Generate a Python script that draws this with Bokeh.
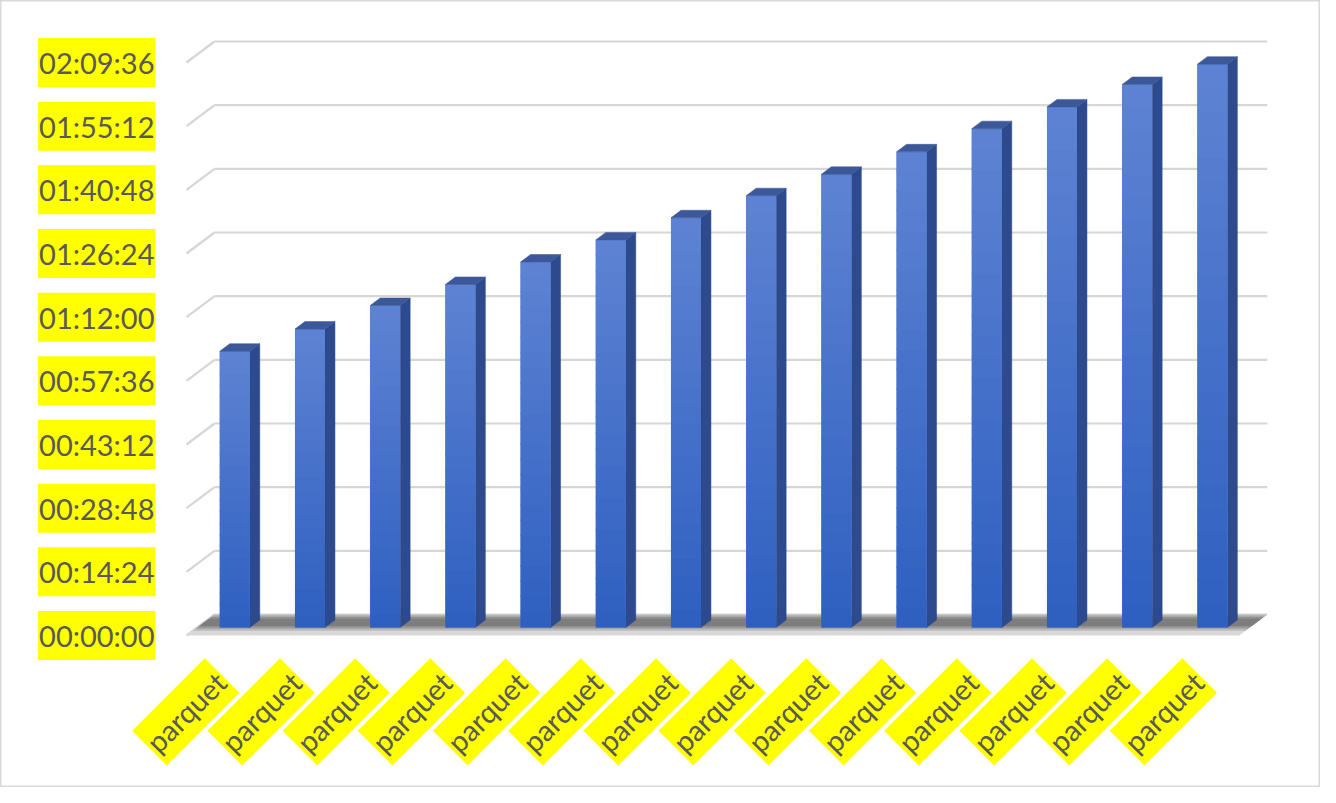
from math import pi
from bokeh.plotting import figure
from bokeh.models import Range1d
from bokeh.core.properties import value
from bokeh.embed import file_html
from bokeh.resources import INLINE

# ---------------- data ----------------
categories = ["parquet"] * 14
durations_s = [3750, 4050, 4370, 4655, 4960, 5260, 5560, 5860, 6150, 6455, 6770, 7065, 7370, 7645]
y_ticks = [0, 864, 1728, 2592, 3456, 4320, 5184, 6048, 6912, 7776]
y_tick_labels = ["00:00:00", "00:14:24", "00:28:48", "00:43:12", "00:57:36",
                 "01:12:00", "01:26:24", "01:40:48", "01:55:12", "02:09:36"]

# ---------------- layout ----------------
W, H = 1320, 787
PX_PER_CAT = 75.2            # pixels per category slot
PX_PER_S = 573.0 / 7776.0    # pixels per second
ORIGIN_X = 186               # canvas px of category 0 (front plane)
ORIGIN_Y = 635               # canvas px (from top) of value 0 (front plane)

n = len(categories)
DX = 28 / PX_PER_CAT         # depth offset to back wall (data units)
DY = 21 / PX_PER_S
T1 = 8 / 21                  # depth of bar front face
T2 = T1 + 10 / 28            # depth of bar back face
BW = 30 / PX_PER_CAT         # bar front width
ONE_PX_Y = 1 / PX_PER_S

x_range = Range1d(-ORIGIN_X / PX_PER_CAT, (W - ORIGIN_X) / PX_PER_CAT)
y_range = Range1d(-(H - ORIGIN_Y) / PX_PER_S, ORIGIN_Y / PX_PER_S)

p = figure(width=W, height=H, x_range=x_range, y_range=y_range,
           output_backend="svg", toolbar_location=None,
           x_axis_location=None, y_axis_location=None,
           min_border=0, min_border_left=0, min_border_right=0,
           min_border_top=0, min_border_bottom=0)
p.grid.visible = False
p.background_fill_color = "white"
p.border_fill_color = "white"
p.outline_line_color = "#d9d9d9"
p.outline_line_width = 2

GRID = "#d6d6d6"
# back wall gridlines
p.segment(x0=[DX] * len(y_ticks), y0=[t + DY for t in y_ticks],
          x1=[n + DX] * len(y_ticks), y1=[t + DY for t in y_ticks],
          line_color=GRID, line_width=2.2)
# side-wall diagonals
p.segment(x0=[0] * len(y_ticks), y0=y_ticks,
          x1=[DX] * len(y_ticks), y1=[t + DY for t in y_ticks],
          line_color=GRID, line_width=2.2)

# floor
p.patch([0, n, n + DX, DX], [0, 0, DY, DY], fill_color="#d9d9d9", line_color=None)
for (ta, tb, a) in [(0.22, 1.0, 0.15), (0.3, 0.95, 0.18), (0.38, 0.88, 0.22), (0.45, 0.8, 0.22)]:
    p.patch([ta * DX, n + ta * DX, n + tb * DX, tb * DX],
            [ta * DY, ta * DY, tb * DY, tb * DY],
            fill_color="#3a3a3a", fill_alpha=a, line_color=None)

# bars
NB = 24
top_rgb = (94, 131, 211)
bot_rgb = (46, 95, 192)

def mix(c1, c2, f):
    return "#%02x%02x%02x" % tuple(int(round(a + (b - a) * f)) for a, b in zip(c1, c2))

bl, br, bb, bt = [], [], [], []
ql, qr, qb, qt, qc = [], [], [], [], []
side_xs, side_ys, top_xs, top_ys = [], [], [], []
for i, v in enumerate(durations_s):
    cx = i + 0.5 + T1 * DX
    l, r = cx - BW / 2, cx + BW / 2
    base = T1 * DY
    bl.append(l); br.append(r); bb.append(base); bt.append(base + v)
    for k in range(NB):
        ql.append(l)
        qr.append(r)
        qb.append(base + v * k / NB)
        qt.append(min(base + v * (k + 1) / NB + 1.5 * ONE_PX_Y, base + v))
        qc.append(mix(bot_rgb, top_rgb, (k + 0.5) / NB))
    ddx = (T2 - T1) * DX
    ddy = (T2 - T1) * DY
    side_xs.append([r, r + ddx, r + ddx, r])
    side_ys.append([base, base + ddy, base + v + ddy, base + v])
    top_xs.append([l, r, r + ddx, l + ddx])
    top_ys.append([base + v, base + v, base + v + ddy, base + v + ddy])

p.patches(side_xs, side_ys, fill_color="#2c4a8d", line_color="#2c4a8d", line_width=0.5)
p.quad(left=bl, right=br, bottom=bb, top=bt, fill_color="#4272cb", line_color=None)
p.quad(left=ql, right=qr, bottom=qb, top=qt, fill_color=qc, line_color=None)
p.patches(top_xs, top_ys, fill_color="#3c5898", line_color="#3c5898", line_width=0.5)

# y tick labels
p.text(x=[-31 / PX_PER_CAT] * len(y_ticks), y=y_ticks,
       text=y_tick_labels, text_align="right", text_baseline="middle",
       text_font=value("Lato"), text_font_size="29px", text_color="#595959",
       background_fill_color="#ffff00", padding=(1, 7))

# category labels
p.text(x=[i + 0.5 - 2 / PX_PER_CAT for i in range(n)], y=[-40 / PX_PER_S] * n,
       text=categories, angle=pi / 4, text_align="right", text_baseline="middle",
       text_font=value("Lato"), text_font_size="29px", text_color="#595959",
       background_fill_color="#ffff00", padding=(2, 7))

open("out.html", "w").write(file_html(p, INLINE))
